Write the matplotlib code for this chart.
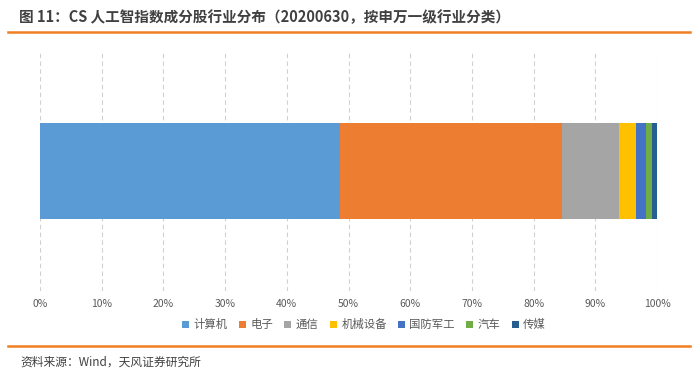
import matplotlib.pyplot as plt
from matplotlib.lines import Line2D

plt.rcParams['font.family'] = ['Noto Sans CJK SC', 'DejaVu Sans']

# 申万一级行业占比（%）
industries = ['计算机', '电子', '通信', '机械设备', '国防军工', '汽车', '传媒']
shares = [48.7, 35.9, 9.3, 2.7, 1.6, 1.0, 0.8]
colors = ['#5B9BD5', '#ED7D31', '#A5A5A5', '#FFC000', '#4472C4', '#70AD47', '#255E91']
xticks = [0, 10, 20, 30, 40, 50, 60, 70, 80, 90, 100]

fig = plt.figure(figsize=(7, 3.78), dpi=100)
ax = fig.add_axes([40 / 700, 87 / 378, 617 / 700, 240 / 378])

left = 0
for name, val, c in zip(industries, shares, colors):
    ax.barh(0, val, left=left, height=0.4, color=c, label=name, zorder=3)
    left += val

ax.set_xlim(0, 100)
ax.set_ylim(-0.5, 0.5)
ax.set_xticks(xticks)
ax.set_xticklabels([f'{t}%' for t in xticks], fontsize=7.5, color='#595959')
ax.set_yticks([])
ax.tick_params(axis='x', length=0, pad=6)
ax.grid(axis='x', color='#D0D0D0', linestyle=(0, (4, 3)), linewidth=0.8, zorder=0)
for s in ax.spines.values():
    s.set_visible(False)

ax.legend(loc='upper center', bbox_to_anchor=(0.525, -0.075), ncol=7, frameon=False,
          fontsize=8.2, handlelength=0.6, handleheight=0.6, handletextpad=0.4,
          columnspacing=1.0, labelcolor='#595959')

fig.text(19 / 700, 1 - 17 / 378, '图 11：CS 人工智指数成分股行业分布（20200630，按申万一级行业分类）',
         fontsize=10.5, fontweight='bold', color='#404040', va='center')
fig.add_artist(Line2D([8 / 700, 690 / 700], [1 - 32 / 378] * 2, color='#F07F22', linewidth=1.8))
fig.add_artist(Line2D([8 / 700, 690 / 700], [1 - 346 / 378] * 2, color='#F07F22', linewidth=1.8))
fig.text(20 / 700, 1 - 362 / 378, '资料来源：Wind，天风证券研究所', fontsize=8.5,
         color='#404040', va='center')

fig.savefig('out.png', dpi=100)
